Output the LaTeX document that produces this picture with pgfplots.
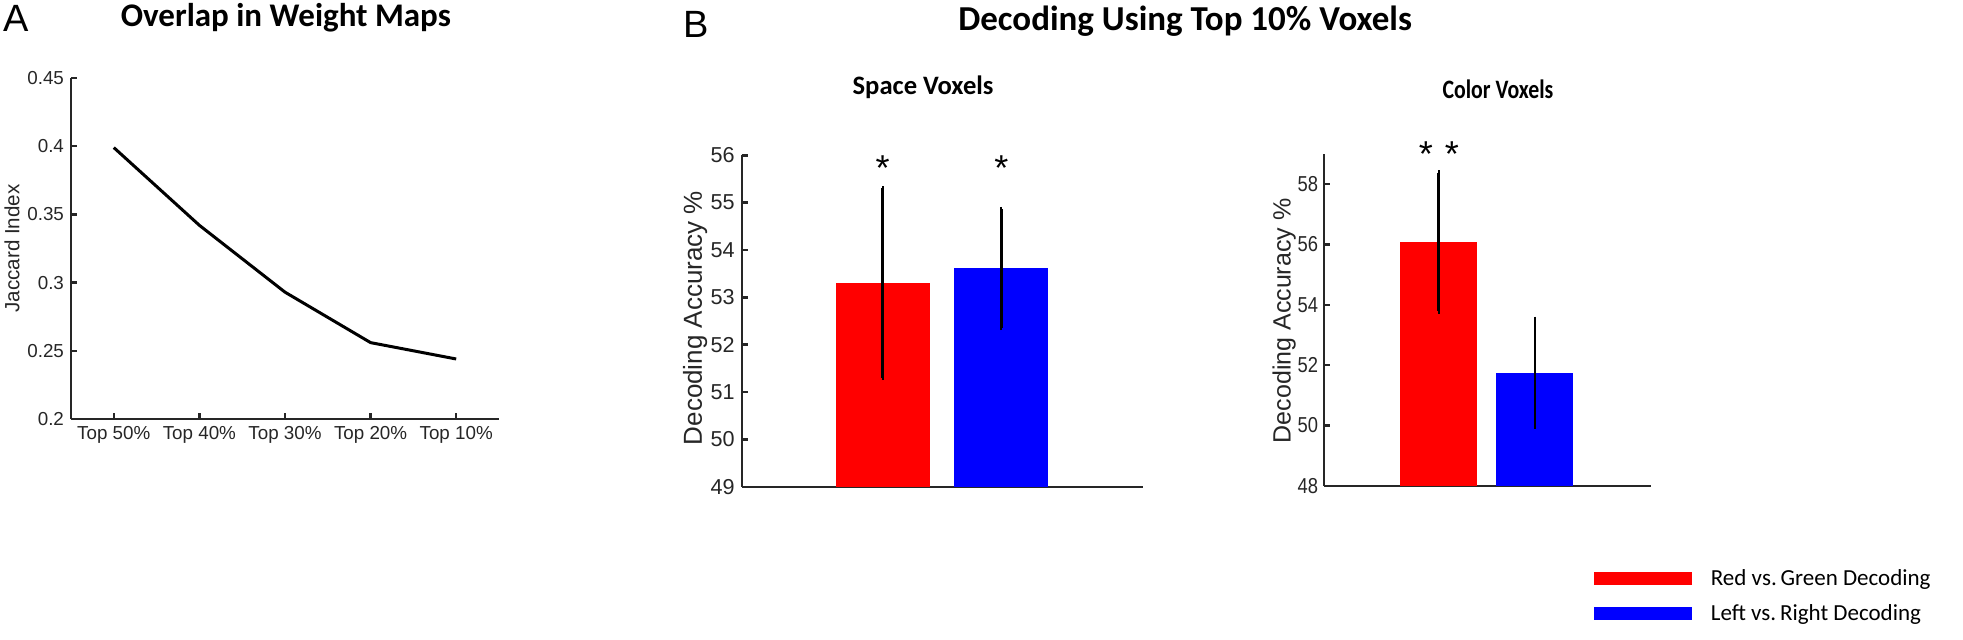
\documentclass[border=0pt]{standalone}
\usepackage{pgfplots}
\pgfplotsset{compat=1.18}
\usepackage{fontspec}
\setmainfont{Liberation Sans}
\newfontfamily\carlito{Carlito}
\definecolor{axgray}{HTML}{262626}
\definecolor{bred}{HTML}{FF0000}
\definecolor{bblue}{HTML}{0000FF}

\begin{document}
\begin{tikzpicture}
\useasboundingbox (0,0) rectangle (981.5pt,319.5pt);
\pgfplotsset{
  myaxis/.style={
    scale only axis,
    axis x line*=bottom, axis y line*=left,
    axis line style={axgray, line width=1.2pt, -},
    tick style={axgray, line width=1.2pt},
    tick align=inside,
    major tick length=3pt,
    clip=true, clip mode=individual,
    /pgf/number format/assume math mode=true,
    ticklabel style={text=axgray},
  },
  errs/.style={error bars/.cd, y dir=both, y explicit,
    error bar style={black, line width=1.3pt},
    error mark options={black, line width=1pt, mark size=1.2pt}},
}

% ---------------- Panel A ----------------
\begin{axis}[myaxis, at={(35.5pt,110pt)}, anchor=south west,
  width=214pt, height=170.5pt,
  xmin=0.5, xmax=5.5, ymin=0.2, ymax=0.45,
  xtick={1,2,3,4,5},
  xticklabels={Top 50\%, Top 40\%, Top 30\%, Top 20\%, Top 10\%},
  ytick={0.2,0.25,0.3,0.35,0.4,0.45},
  yticklabel style={/pgf/number format/fixed, /pgf/number format/precision=2,
    font=\fontsize{9.4}{11}\selectfont},
  xticklabel style={font=\fontsize{9.4}{11}\selectfont},
  ylabel={Jaccard Index},
  ylabel style={at={(axis description cs:-0.138,0.5)}, anchor=center,
    font=\fontsize{10.3}{12}\selectfont, text=axgray},
]
\addplot[black, line width=1.5pt] coordinates {(1,0.399)(2,0.342)(3,0.293)(4,0.256)(5,0.244)};
\node[font=\carlito\bfseries\fontsize{16.5}{20}\selectfont, anchor=base] at (axis description cs:0.502,1.150) {Overlap in Weight Maps};
\node[font=\fontsize{19}{22}\selectfont, anchor=base west, inner sep=0pt] at (axis description cs:-0.159,1.135) {A};
\end{axis}

% ---------------- Panel B left ----------------
\begin{axis}[myaxis, at={(370.85pt,76.15pt)}, anchor=south west,
  width=200.65pt, height=165.7pt,
  xmin=-1.19, xmax=2.196, ymin=49, ymax=56,
  xtick={0}, xticklabels={},
  ytick={49,50,51,52,53,54,55,56},
  yticklabel style={font=\fontsize{10.8}{12}\selectfont},
  ylabel={Decoding Accuracy \%},
  ylabel style={at={(axis description cs:-0.116,0.509)}, anchor=center,
    font=\fontsize{13}{15}\selectfont, text=axgray},
]
\addplot[ybar, bar width=0.793, bar shift=0pt, fill=bred, draw=none, errs]
  coordinates {(0,53.30) +- (0,2.00)};
\addplot[ybar, bar width=0.793, bar shift=0pt, fill=bblue, draw=none, errs]
  coordinates {(1,53.61) +- (0,1.25)};
\node[font=\fontsize{18}{20}\selectfont, anchor=base] at (axis cs:0,55.47) {*};
\node[font=\fontsize{18}{20}\selectfont, anchor=base] at (axis cs:1,55.47) {*};
\node[font=\carlito\bfseries\fontsize{13.3}{16}\selectfont, anchor=base] at (axis description cs:0.452,1.182) {Space Voxels};
\node[font=\carlito\bfseries\fontsize{17.5}{20}\selectfont, anchor=base] at (axis description cs:1.105,1.378) {Decoding Using Top 10\% Voxels};
\node[font=\fontsize{19}{22}\selectfont, anchor=base west, inner sep=0pt] at (axis description cs:-0.146,1.357) {B};
\end{axis}

% ---------------- Panel B right ----------------
\begin{axis}[myaxis, at={(662pt,76.65pt)}, anchor=south west,
  width=163.5pt, height=165.85pt,
  xmin=-1.195, xmax=2.21, ymin=48, ymax=59,
  xtick={0}, xticklabels={},
  ytick={48,50,52,54,56,58},
  yticklabel style={font=\fontsize{10.8}{12}\selectfont, xscale=0.85},
  ylabel={Decoding Accuracy \%},
  ylabel style={at={(axis description cs:-0.122,0.497)}, anchor=center,
    font=\fontsize{12.5}{15}\selectfont, text=axgray},
  legend style={at={(axis description cs:0.806,-0.239)}, anchor=north west,
    draw=none, fill=none, inner sep=0pt, row sep=4pt,
    font=\carlito\fontsize{11.5}{13}\selectfont},
  legend cell align=left,
]
\addplot[forget plot, ybar, bar width=0.80, bar shift=0pt, fill=bred, draw=none, errs]
  coordinates {(0,56.08) +- (0,2.30)};
\addplot[forget plot, ybar, bar width=0.80, bar shift=0pt, fill=bblue, draw=none, errs]
  coordinates {(1,51.75) +- (0,1.78)};
\addlegendimage{legend image code/.code={\draw[bred, line width=6.5pt] (0pt,0pt) -- (48.8pt,0pt); \path (56pt,0pt);}}
\addlegendentry{Red vs.\,Green Decoding}
\addlegendimage{legend image code/.code={\draw[bblue, line width=6.5pt] (0pt,0pt) -- (48.8pt,0pt); \path (56pt,0pt);}}
\addlegendentry{Left vs.\,Right Decoding}
\node[font=\fontsize{18}{20}\selectfont, anchor=base] at (axis cs:0,58.58) {*\,\,*};
\node[font=\carlito\bfseries\fontsize{13.3}{16}\selectfont, anchor=base, xscale=0.82] at (axis description cs:0.532,1.168) {Color Voxels};
\end{axis}
\end{tikzpicture}
\end{document}
